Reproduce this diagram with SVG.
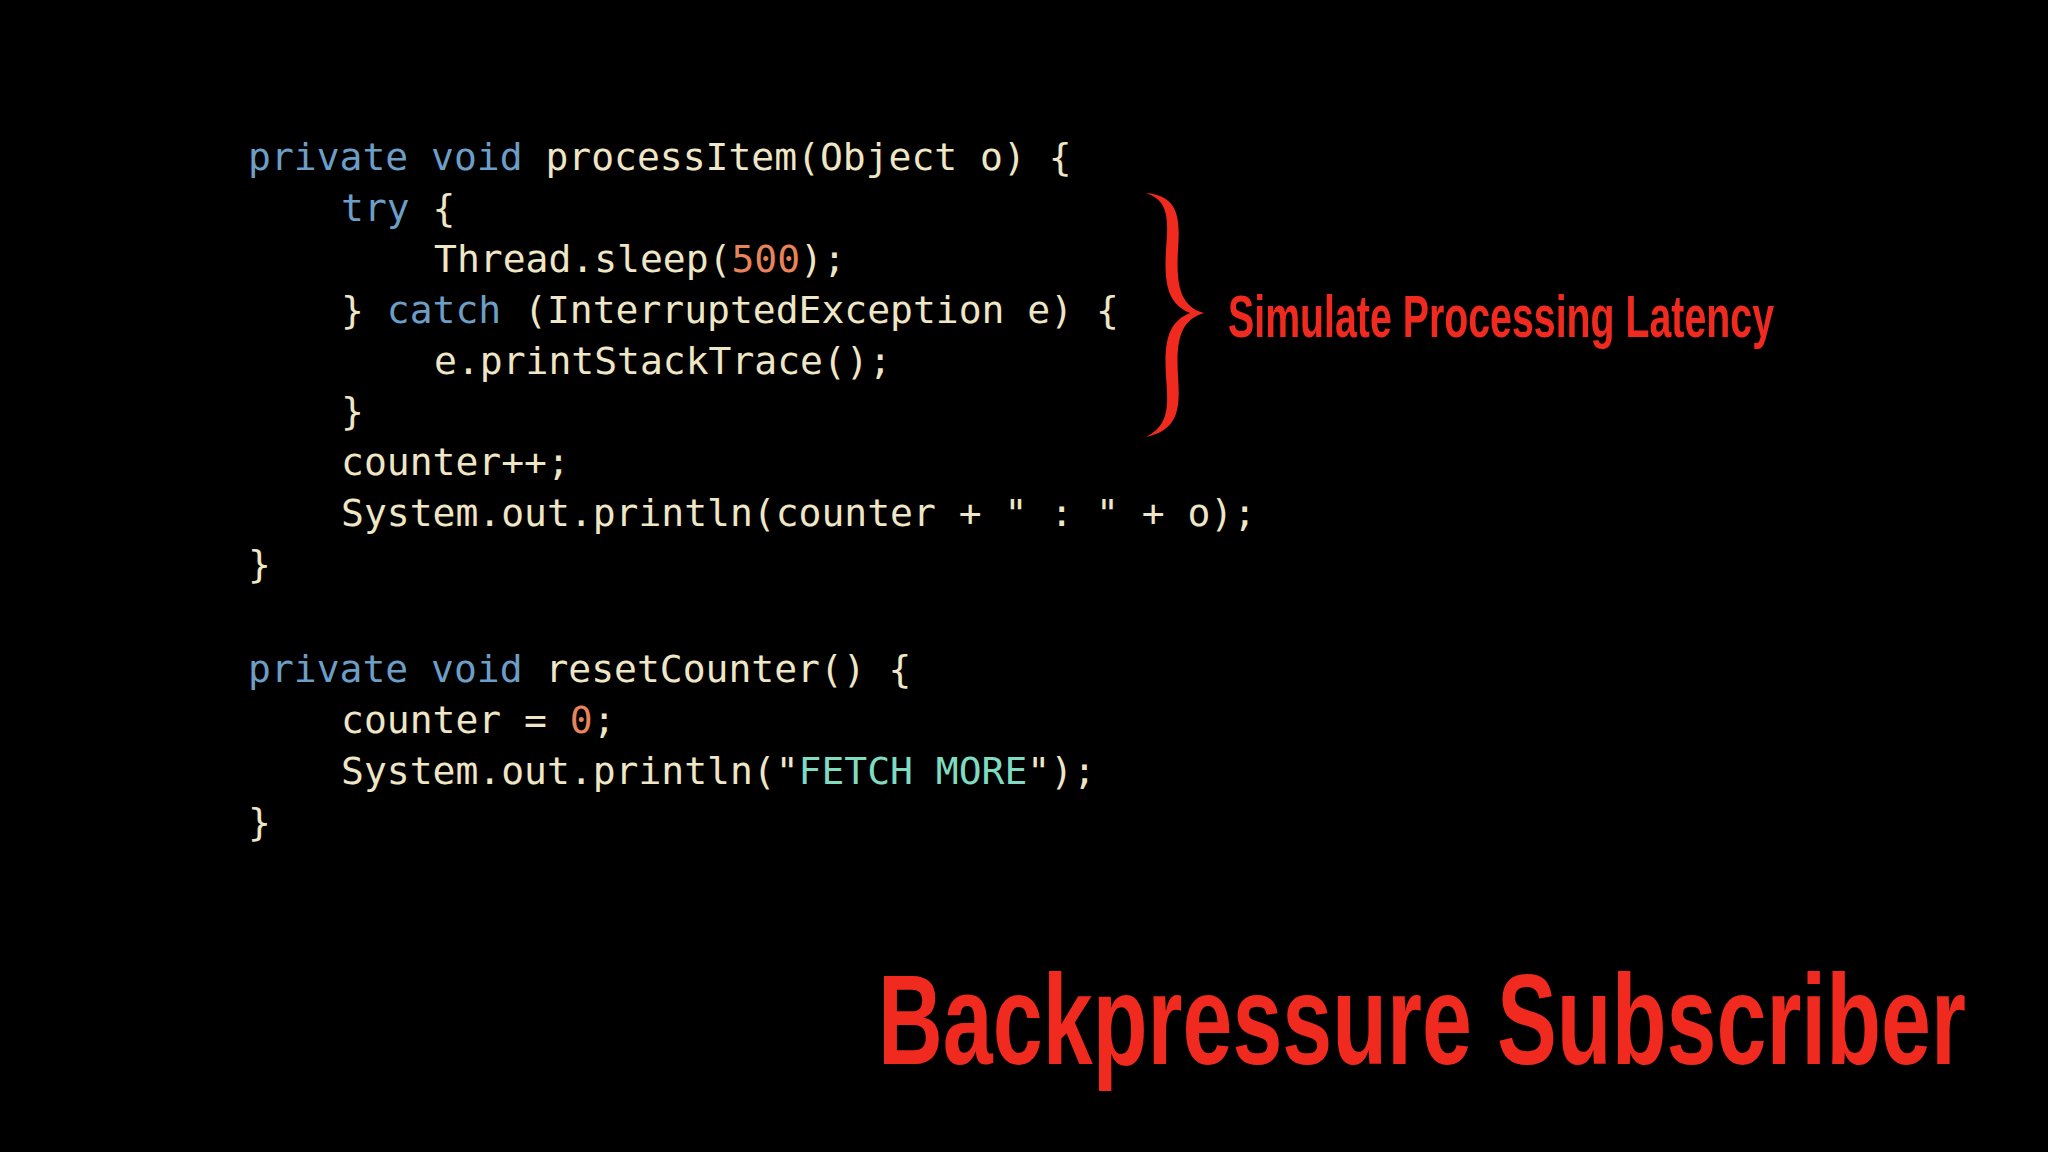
<svg xmlns="http://www.w3.org/2000/svg" width="2048" height="1152" viewBox="0 0 2048 1152">
<style>
.c{font-family:"DejaVu Sans Mono","Liberation Mono",monospace;font-size:38px;fill:#efe6c6;white-space:pre}
.k{fill:#6c9ec6}.n{fill:#e8845a}.s{fill:#7fdcc0}
.r{font-family:"Liberation Sans",Arial,sans-serif;font-weight:bold;fill:#f02a1e}
</style>
<rect width="2048" height="1152" fill="#000"/>
<g id="code">
<text class="c" x="248" y="170"><tspan class="k">private</tspan> <tspan class="k">void</tspan> processItem(Object o) {</text>
<text class="c" x="341" y="221"><tspan class="k">try</tspan> {</text>
<text class="c" x="434" y="272">Thread.sleep(<tspan class="n">500</tspan>);</text>
<text class="c" x="341" y="323">} <tspan class="k">catch</tspan> (InterruptedException e) {</text>
<text class="c" x="434" y="374">e.printStackTrace();</text>
<text class="c" x="341" y="424">}</text>
<text class="c" x="341" y="475">counter++;</text>
<text class="c" x="341" y="526">System.out.println(counter + " : " + o);</text>
<text class="c" x="248" y="577">}</text>
<text class="c" x="248" y="682"><tspan class="k">private</tspan> <tspan class="k">void</tspan> resetCounter() {</text>
<text class="c" x="341" y="733">counter = <tspan class="n">0</tspan>;</text>
<text class="c" x="341" y="784">System.out.println("<tspan class="s">FETCH MORE</tspan>");</text>
<text class="c" x="248" y="835">}</text>
</g>
<g id="brace">
<path d="M1146,193 C1180,196 1180,220 1178,250 C1176,285 1180,306 1204,313 C1180,320 1176,341 1178,376 C1180,406 1180,430 1146,437 C1170,425 1168,405 1166,376 C1164,341 1168,322 1190,313 C1168,304 1164,285 1166,250 C1168,221 1170,201 1146,193 Z" fill="#f02a1e"/>
</g>
<text class="r" x="1228" y="337" font-size="60" textLength="546" lengthAdjust="spacingAndGlyphs">Simulate Processing Latency</text>
<text class="r" x="878" y="1064" font-size="128" textLength="1088" lengthAdjust="spacingAndGlyphs">Backpressure Subscriber</text>
</svg>
